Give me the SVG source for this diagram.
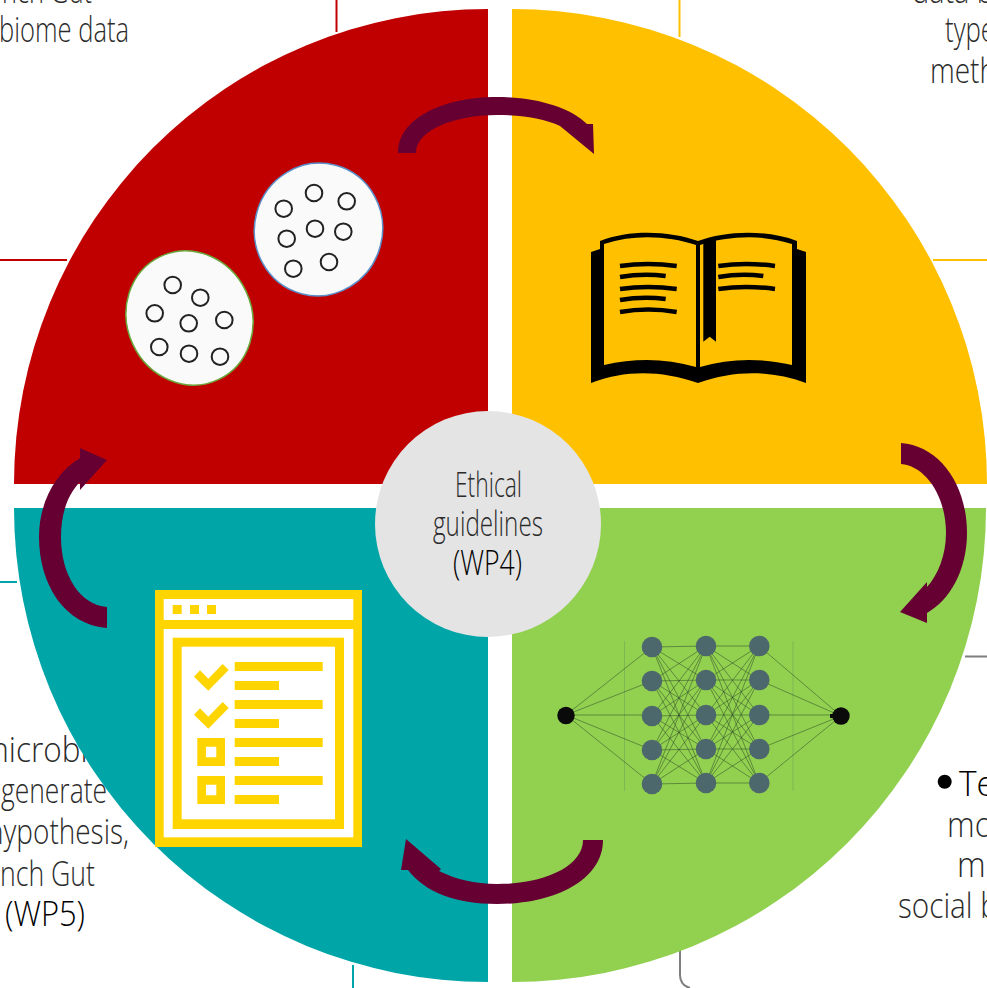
<svg xmlns="http://www.w3.org/2000/svg" width="987" height="988" viewBox="0 0 987 988">
<style>
text{font-family:"Open Sans","Noto Sans",sans-serif;font-weight:300;font-size:34px;fill:#2b2b2b}
.k{fill:#000}
.ln{fill:none;stroke-width:2}
.arrow{fill:#660033}
.w{fill:#fff}
.y{fill:#ffd500}
.cell{fill:#fafafa;stroke-width:1.5}
.o{fill:none;stroke:#222;stroke-width:2}
.pl{fill:none;stroke:#000;stroke-width:4.5}
.n{fill:#4d686c}
</style>
<g id="leaders">
<path class="ln" stroke="#c00000" d="M336.5 0V32M0 260H67"/>
<path class="ln" stroke="#ffc000" d="M679.5 0V37M933 260H987"/>
<path class="ln" stroke="#00a5a8" d="M0 582H17M353 965V988"/>
<path class="ln" stroke="#7f7f7f" d="M965 656.5H987M680 950V975Q680 985 690 988"/>
</g>
<g id="labels">
<text x="92" y="3" text-anchor="end" textLength="90" lengthAdjust="spacingAndGlyphs">nch Gut</text>
<text x="-1" y="42" textLength="130" lengthAdjust="spacingAndGlyphs">biome data</text>
<text x="912" y="3" textLength="82" lengthAdjust="spacingAndGlyphs">data b</text>
<text x="945" y="42" textLength="50" lengthAdjust="spacingAndGlyphs">type</text>
<text x="930" y="83" textLength="66" lengthAdjust="spacingAndGlyphs">meth</text>
<text x="-19" y="762" textLength="125" lengthAdjust="spacingAndGlyphs">microbio</text>
<text x="1" y="803" textLength="106" lengthAdjust="spacingAndGlyphs">generate</text>
<text x="-13" y="844" textLength="142" lengthAdjust="spacingAndGlyphs">hypothesis,</text>
<text x="0" y="886" textLength="95" lengthAdjust="spacingAndGlyphs">nch Gut</text>
<text class="k" x="5" y="926" textLength="80" lengthAdjust="spacingAndGlyphs">(WP5)</text>
<circle cx="944.7" cy="781.7" r="7"/>
<text class="k" x="959" y="796" textLength="36" lengthAdjust="spacingAndGlyphs">Te</text>
<text x="947" y="837" textLength="46" lengthAdjust="spacingAndGlyphs">mo</text>
<text x="957" y="877" textLength="36" lengthAdjust="spacingAndGlyphs">mi</text>
<text x="898" y="918" textLength="100" lengthAdjust="spacingAndGlyphs">social b</text>
</g>
<g id="quadrant-red"><path fill="#c00000" d="M488 484H14A474 475 0 0 1 488 9Z"/></g>
<g id="quadrant-yellow"><path fill="#ffc000" d="M512 484H987A475 475 0 0 0 512 9Z"/></g>
<g id="quadrant-green"><path fill="#92d050" d="M512 508H986A474 474 0 0 1 512 982Z"/></g>
<g id="quadrant-teal"><path fill="#00a5a8" d="M488 508H14A474 474 0 0 0 488 982Z"/></g>
<g id="cells">
<g id="cell-blue">
<ellipse class="cell" stroke="#5b8fc9" cx="318.5" cy="229.5" rx="64" ry="66.5" transform="rotate(15 318.5 229.5)"/>
<g class="o"><circle cx="283.7" cy="208.7" r="8.3"/><circle cx="314" cy="193" r="8.3"/><circle cx="346.7" cy="201.3" r="8.3"/><circle cx="286.7" cy="238.7" r="8.3"/><circle cx="315" cy="228.7" r="8.3"/><circle cx="343.3" cy="231.7" r="8.3"/><circle cx="293.3" cy="268.7" r="8.3"/><circle cx="329" cy="262" r="8.3"/></g>
</g>
<g id="cell-green">
<ellipse class="cell" stroke="#6aa83c" cx="189.5" cy="318" rx="62.5" ry="68" transform="rotate(-25 189.5 318)"/>
<g class="o"><circle cx="172.7" cy="285" r="8.3"/><circle cx="200.3" cy="297.7" r="8.3"/><circle cx="154.7" cy="313.3" r="8.3"/><circle cx="188.7" cy="323.3" r="8.3"/><circle cx="224.3" cy="320" r="8.3"/><circle cx="159.3" cy="347" r="8.3"/><circle cx="189" cy="353.7" r="8.3"/><circle cx="220" cy="356.7" r="8.3"/></g>
</g>
</g>
<g id="book">
<path d="M591 252L600 249V241C630 229 670 231 698 241C725 231 765 229 797 241V249L806 252V383C770 370 735 370 698 383C660 370 625 370 591 383Z"/>
<path fill="#ffc000" d="M604 244C635 234 668 236 696 245V367C665 358 635 358 604 365Z"/>
<path fill="#ffc000" d="M700 245C728 236 762 234 792 244V365C762 358 730 358 700 367Z"/>
<path d="M703.3 240H716V341.7L709.7 336.7L703.3 341.7Z"/>
<path class="pl" d="M620 266Q648 262 676.7 266M620 277Q643 273 665.7 276M620 289Q648 285 676.7 289M620 300Q643 296 665.7 299M620 312Q648 307 676.7 312M718.3 266Q746 262 775 266M718.3 277Q741 273 763.3 276M718.3 289Q746 285 775 289"/>
</g>
<g id="checklist">
<rect class="y" x="155" y="590" width="207" height="257"/>
<rect class="w" x="163.7" y="599" width="189.6" height="21"/>
<rect class="w" x="163.7" y="629" width="189.6" height="208.3"/>
<rect class="y" x="172.7" y="637.7" width="171.3" height="191.3"/>
<rect class="w" x="181.7" y="646.7" width="153.3" height="172.6"/>
<path class="y" d="M172.7 605h9v9h-9zM190 605h9v9h-9zM207 605h9v9h-9z"/>
<path class="y" d="M234.7 662h88v9h-88zM234.7 681h44.3v9h-44.3zM234.7 700h88v9h-88zM234.7 719h44.3v9h-44.3zM234.7 738h88v9h-88zM234.7 757h44.3v9h-44.3zM234.7 776h88v9h-88zM234.7 795h44.3v9h-44.3z"/>
<path class="y" d="M194 676.7L200 670.3L208.3 678.7L222.7 664L228.7 670L208.3 690.7ZM194 714.7L200 708.3L208.3 716.7L222.7 702L228.7 708L208.3 728.7Z"/>
<path class="y" fill-rule="evenodd" d="M197.3 738H225V766H197.3ZM206 746.7V757.3H216.3V746.7ZM197.3 776H225V804H197.3ZM206 784.7V795.3H216.3V784.7Z"/>
</g>
<g id="network">
<path fill="none" stroke="#7fb852" stroke-width="1" d="M624.5 641V791M793 641V791"/>
<path fill="none" stroke="#2c4a28" stroke-opacity=".65" stroke-width=".8" d="M566 715L652 647M566 715L652 681M566 715H652M566 715L652 750M566 715L652 784M759 646L841 716M759 680L841 716M759 715H841M759 749L841 716M759 783L841 716
M652 647L706 646M652 647L706 680M652 647L706 715M652 647L706 749M652 647L706 783M652 681L706 646M652 681L706 680M652 681L706 715M652 681L706 749M652 681L706 783M652 716L706 646M652 716L706 680M652 716L706 715M652 716L706 749M652 716L706 783M652 750L706 646M652 750L706 680M652 750L706 715M652 750L706 749M652 750L706 783M652 784L706 646M652 784L706 680M652 784L706 715M652 784L706 749M652 784L706 783
M706 646L759 646M706 646L759 680M706 646L759 715M706 646L759 749M706 646L759 783M706 680L759 646M706 680L759 680M706 680L759 715M706 680L759 749M706 680L759 783M706 715L759 646M706 715L759 680M706 715L759 715M706 715L759 749M706 715L759 783M706 749L759 646M706 749L759 680M706 749L759 715M706 749L759 749M706 749L759 783M706 783L759 646M706 783L759 680M706 783L759 715M706 783L759 749M706 783L759 783"/>
<circle cx="566" cy="715.5" r="8.7" fill="#0a0a0a"/><circle cx="841" cy="716" r="8.7" fill="#0a0a0a"/>
<path d="M830 714h3v4h-3z" fill="#0a0a0a"/>
<g class="n"><circle cx="652" cy="647" r="10.3"/><circle cx="652" cy="681" r="10.3"/><circle cx="652" cy="716" r="10.3"/><circle cx="652" cy="750" r="10.3"/><circle cx="652" cy="784" r="10.3"/><circle cx="706" cy="646" r="10.3"/><circle cx="706" cy="680" r="10.3"/><circle cx="706" cy="715" r="10.3"/><circle cx="706" cy="749" r="10.3"/><circle cx="706" cy="783" r="10.3"/><circle cx="759.3" cy="646" r="10.3"/><circle cx="759.3" cy="680" r="10.3"/><circle cx="759.3" cy="715" r="10.3"/><circle cx="759.3" cy="749" r="10.3"/><circle cx="759.3" cy="783" r="10.3"/></g>
</g>
<g id="connectors">
<path class="arrow" d="M398 153C398 120 440 97 497 97C535 97 570 107 587 124L593 124L594 154L560 126C545 119 525 115 497 115C455 115 416 130 416 153Z"/>
<path class="arrow" d="M901 443C940 446 967 485 967 533C967 570 950 600 927 613L927 623L900 612L927 582L927 587C938 575 946 555 946 533C946 495 925 466 901 464Z"/>
<path class="arrow" d="M603 840C603 880 555 904 497 904C455 904 425 892 408 870L401 870L406 839L441 869L439 871C455 879 475 884 497 884C545 884 583 866 583 840Z"/>
<path class="arrow" d="M107 628C65 625 39 585 39 537C39 503 55 473 80 458L80 448L107 460L80 490L80 482C67 495 61 515 61 537C61 575 80 605 107 607Z"/>
</g>
<g id="center">
<circle cx="488" cy="524" r="113" fill="#e4e4e4"/>
<text x="455" y="497" textLength="67" lengthAdjust="spacingAndGlyphs">Ethical</text>
<text x="433" y="536" textLength="110" lengthAdjust="spacingAndGlyphs">guidelines</text>
<text class="k" x="453" y="575" textLength="69" lengthAdjust="spacingAndGlyphs">(WP4)</text>
</g>
</svg>
